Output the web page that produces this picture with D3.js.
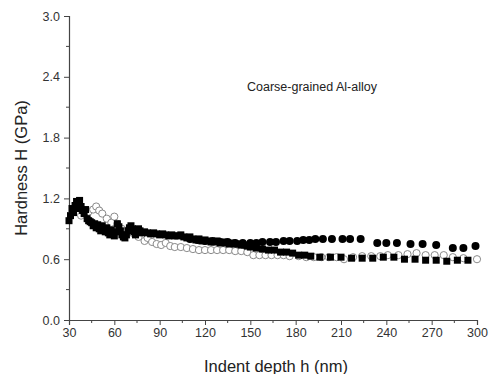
<!DOCTYPE html>
<html>
<head>
<meta charset="utf-8">
<script src="https://cdn.jsdelivr.net/npm/d3@7"></script>
<style>
  body { margin: 0; background: #fff; }
  svg { display: block; font-family: "Liberation Sans", Arial, sans-serif; }
</style>
</head>
<body>
<div id="chart"></div>
<script>
// Hardness vs indent depth, coarse-grained Al-alloy
const xTicks = [30, 60, 90, 120, 150, 180, 210, 240, 270, 300];
const yTicks = [0, 0.6, 1.2, 1.8, 2.4, 3.0];

// filled squares [depth nm, hardness GPa]
const squares = [
  [30, 0.98], [31, 1.03], [32, 1.1], [33, 1.06], [34, 1.13], [35, 1.17], [36, 1.1], [37, 1.18],
  [38, 1.12], [39, 1.08], [40, 1.05], [41, 1.09], [42, 1.0], [43, 0.98], [44, 0.97], [45, 0.96],
  [46, 0.93], [47, 0.95], [48, 0.91], [49, 0.94], [50, 0.9], [51, 0.88], [52, 0.93], [53, 0.89],
  [54, 0.87], [55, 0.91], [56, 0.86], [57, 0.84], [58, 0.89], [59, 0.85], [60, 0.83], [61, 0.87],
  [62, 0.95], [63, 0.92], [64, 0.88], [65, 0.84], [66, 0.82], [67, 0.81], [68, 0.84], [69, 0.88],
  [70, 0.91], [71, 0.93], [72, 0.9], [73, 0.87], [74, 0.84], [75, 0.88], [76, 0.9], [77, 0.88],
  [78, 0.86], [80, 0.87], [82, 0.86], [84, 0.85], [86, 0.86], [88, 0.85], [90, 0.84], [92, 0.85],
  [94, 0.84], [96, 0.83], [98, 0.84], [100, 0.83], [102, 0.83], [104, 0.84], [106, 0.82], [108, 0.81],
  [110, 0.82], [112, 0.8], [114, 0.79], [116, 0.8], [118, 0.78], [120, 0.79], [122, 0.78], [124, 0.77],
  [126, 0.77], [128, 0.78], [130, 0.76], [132, 0.77], [134, 0.76], [136, 0.75], [138, 0.76], [140, 0.75],
  [142, 0.75], [144, 0.74], [146, 0.74], [148, 0.73], [150, 0.72], [154, 0.71], [158, 0.7], [162, 0.69],
  [166, 0.69], [170, 0.67], [174, 0.67], [178, 0.66], [182, 0.64], [186, 0.64], [190, 0.63], [196, 0.62],
  [203, 0.62], [210, 0.62], [217, 0.61], [224, 0.61], [231, 0.61], [238, 0.62], [245, 0.62], [252, 0.6],
  [259, 0.6], [266, 0.59], [273, 0.59], [280, 0.58], [287, 0.59], [294, 0.59]
];

// filled circles
const dots = [
  [110, 0.8], [115, 0.79], [120, 0.78], [125, 0.78], [130, 0.77], [135, 0.77], [140, 0.76], [145, 0.76],
  [150, 0.76], [154, 0.76], [158, 0.77], [163, 0.77], [167, 0.77], [172, 0.78], [176, 0.78], [181, 0.78],
  [185, 0.79], [189, 0.79], [193, 0.8], [198, 0.8], [204, 0.8], [211, 0.8], [216, 0.8], [223, 0.8],
  [234, 0.76], [240, 0.76], [247, 0.76], [256, 0.75], [264, 0.75], [273, 0.74], [284, 0.71], [291, 0.71],
  [299, 0.73]
];

// open circles
const rings = [
  [38, 1.03], [41, 1.06], [43, 1.07], [46, 1.09], [48, 1.12], [50, 1.08], [52, 1.05], [55, 1.0],
  [58, 0.96], [60, 1.02], [62, 0.95], [65, 0.9], [68, 0.88], [72, 0.86], [76, 0.82], [80, 0.78],
  [82, 0.81], [85, 0.77], [88, 0.75], [91, 0.74], [94, 0.76], [97, 0.73], [100, 0.72], [104, 0.72],
  [108, 0.71], [112, 0.7], [116, 0.69], [120, 0.69], [124, 0.69], [128, 0.69], [132, 0.69], [136, 0.69],
  [140, 0.68], [144, 0.68], [148, 0.67], [152, 0.64], [156, 0.64], [160, 0.64], [164, 0.64], [168, 0.64],
  [172, 0.64], [176, 0.63], [182, 0.63], [187, 0.62], [192, 0.62], [197, 0.62], [202, 0.62], [207, 0.62],
  [212, 0.6], [218, 0.62], [224, 0.63], [230, 0.63], [236, 0.63], [241, 0.64], [248, 0.64], [254, 0.65],
  [260, 0.66], [266, 0.64], [272, 0.64], [278, 0.64], [284, 0.62], [291, 0.61], [300, 0.6]
];

const width = 490, height = 374;
const margin = { top: 16, right: 12, bottom: 54, left: 69 };

const svg = d3.select('#chart').append('svg')
  .attr('width', width)
  .attr('height', height);

const x = d3.scaleLinear().domain([30, 300]).range([margin.left, 477]);
const y = d3.scaleLinear().domain([0, 3]).range([320, margin.top]);

const axisColor = '#444';

// minor ticks
const xMinor = d3.range(45, 300, 30);
const yMinor = d3.range(0.3, 3, 0.6);

const gx = svg.append('g')
  .attr('transform', `translate(0,${y(0)})`)
  .call(d3.axisBottom(x).tickValues(xTicks).tickSize(5).tickPadding(3).tickFormat(d3.format('d')));
gx.append('g').selectAll('line').data(xMinor).join('line')
  .attr('x1', d => x(d)).attr('x2', d => x(d)).attr('y1', 0).attr('y2', 3)
  .attr('stroke', axisColor);

const gy = svg.append('g')
  .attr('transform', `translate(${x(30)},0)`)
  .call(d3.axisLeft(y).tickValues(yTicks).tickSize(5).tickPadding(4).tickFormat(d3.format('.1f')));
gy.append('g').selectAll('line').data(yMinor).join('line')
  .attr('y1', d => y(d)).attr('y2', d => y(d)).attr('x1', 0).attr('x2', -3)
  .attr('stroke', axisColor);

[gx, gy].forEach(g => {
  g.select('.domain').attr('stroke', axisColor).attr('stroke-width', 1.2);
  g.selectAll('.tick line').attr('stroke', axisColor);
  g.selectAll('.tick text').attr('fill', '#333').attr('font-size', 12.5)
    .attr('font-family', '"Liberation Sans", Arial, sans-serif');
});

// series
svg.append('g').selectAll('circle').data(rings).join('circle')
  .attr('cx', d => x(d[0])).attr('cy', d => y(d[1])).attr('r', 3.6)
  .attr('fill', '#fff').attr('stroke', '#8a8a8a').attr('stroke-width', 1);

svg.append('g').selectAll('rect').data(squares).join('rect')
  .attr('x', d => x(d[0]) - 3.5).attr('y', d => y(d[1]) - 3.5)
  .attr('width', 7).attr('height', 7)
  .attr('fill', '#000');

svg.append('g').selectAll('circle').data(dots).join('circle')
  .attr('cx', d => x(d[0])).attr('cy', d => y(d[1])).attr('r', 4)
  .attr('fill', '#000');

// labels
svg.append('text')
  .attr('x', 276).attr('y', 372)
  .attr('text-anchor', 'middle')
  .attr('font-size', 16.5).attr('fill', '#222')
  .text('Indent depth h (nm)');

svg.append('text')
  .attr('transform', `translate(27,168) rotate(-90)`)
  .attr('text-anchor', 'middle')
  .attr('font-size', 16.5).attr('fill', '#222')
  .text('Hardness H (GPa)');

svg.append('text')
  .attr('x', 312).attr('y', 91)
  .attr('text-anchor', 'middle')
  .attr('font-size', 12.5).attr('fill', '#222')
  .text('Coarse-grained Al-alloy');
</script>
</body>
</html>
